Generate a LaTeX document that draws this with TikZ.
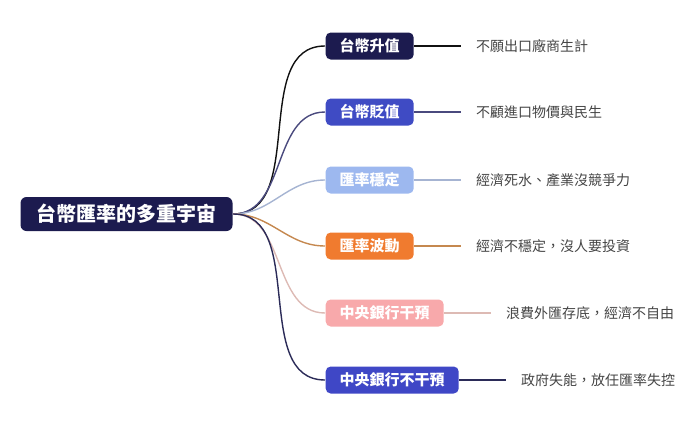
\documentclass[tikz,border=0pt]{standalone}
\usepackage{fontspec}
\newfontfamily\cjk{Noto Sans CJK TC}
\usetikzlibrary{positioning}
\definecolor{navy}{HTML}{1C1B4F}
\definecolor{indigo}{HTML}{3F4BC4}
\definecolor{sky}{HTML}{9DB8EF}
\definecolor{tangerine}{HTML}{F07B2F}
\definecolor{blush}{HTML}{F8A9AB}
\definecolor{royal}{HTML}{3F47C6}
\definecolor{lineA}{HTML}{111111}
\definecolor{lineB}{HTML}{4A4A7E}
\definecolor{lineC}{HTML}{A6B4D2}
\definecolor{lineD}{HTML}{C5884F}
\definecolor{lineE}{HTML}{DDBAB4}
\definecolor{lineF}{HTML}{2B2B58}
\definecolor{leafgray}{HTML}{444444}

\begin{document}
\begin{tikzpicture}[x=1pt,y=-1pt,line width=1.4pt,
 root node/.style={rounded corners=6pt,fill=navy,text=white,inner xsep=16pt,
   minimum height=34pt,font=\cjk\bfseries\fontsize{20}{24}\selectfont},
 topic node/.style={rounded corners=5pt,text=white,inner xsep=14pt,anchor=west,
   minimum height=27pt,font=\cjk\bfseries\fontsize{15}{18}\selectfont},
 leaf node/.style={text=leafgray,inner xsep=14pt,anchor=west,
   font=\cjk\fontsize{14}{17}\selectfont}]
 \useasboundingbox (0,0) rectangle (690,426);
 \node[root node](R) at (126.5,214){台幣匯率的多重宇宙};
 \foreach \s/\y/\f/\t in {A/46/navy/台幣升值, B/112/indigo/台幣貶值,
     C/180/sky/匯率穩定, D/246/tangerine/匯率波動,
     E/313/blush/中央銀行干預, F/380/royal/中央銀行不干預}{
     \node[topic node,fill=\f](\s) at (325,\y){\t};}
 \foreach \s/\t in {A/不願出口廠商生計, B/不顧進口物價與民生,
     C/經濟死水、產業沒競爭力, D/經濟不穩定，沒人要投資,
     E/浪費外匯存底，經濟不自由, F/政府失能，放任匯率失控}{
     \node[leaf node](l\s)[right=47pt of \s]{\t};}

 \foreach \s in {A,B,C,D,E,F}{
    \path[draw=line\s] (R.east) edge[out=0,in=180] (\s.west) (\s) edge (l\s);}
\end{tikzpicture}
\end{document}
